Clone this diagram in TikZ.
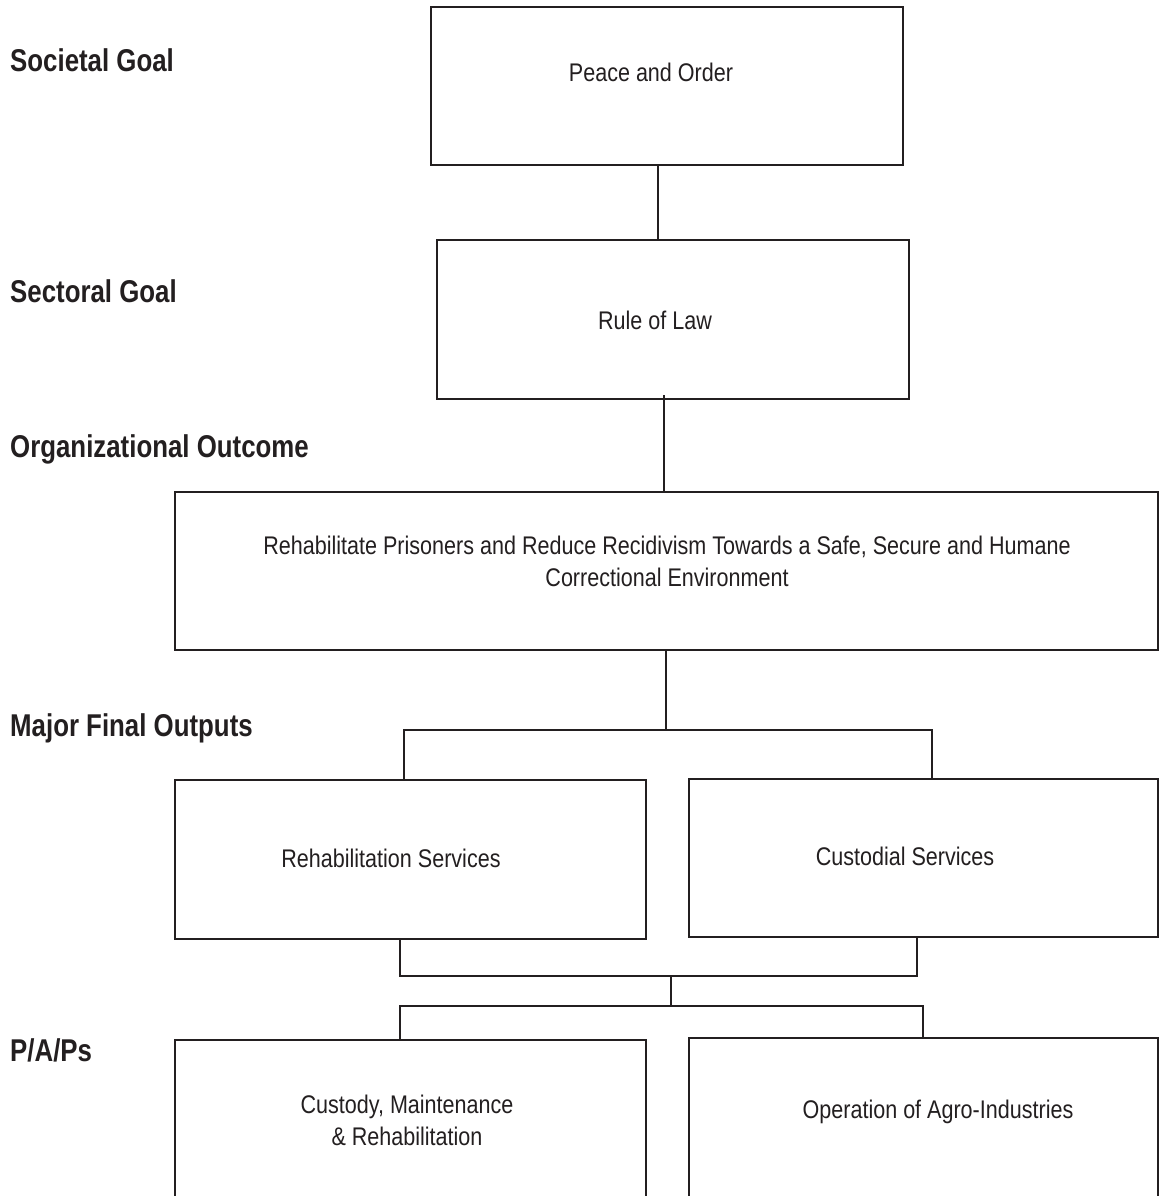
\documentclass[tikz,border=0pt]{standalone}
\usepackage{fontspec}
\setmainfont[FakeStretch=0.82]{Liberation Sans}
\newfontfamily\bodyfont[FakeStretch=0.845]{Liberation Sans}
\definecolor{ink}{HTML}{231F20}
\begin{document}
\begin{tikzpicture}[x=1pt,y=-1pt,
  box/.style={draw=ink, line width=2.6pt, rectangle, inner sep=0pt, outer sep=0pt},
  txt/.style={text=ink, font=\bodyfont\fontsize{25.5}{32}\selectfont, inner sep=0pt, anchor=base},
  txtc/.style={text=ink, font=\bodyfont\fontsize{25.5}{32}\selectfont, inner sep=0pt, anchor=center, align=center},
  lvl/.style={text=ink, font=\fontsize{31.5}{38}\selectfont\bfseries, inner sep=0pt, anchor=base west},
  wire/.style={draw=ink, line width=2.6pt}]
\useasboundingbox (0,0) rectangle (1160,1196);
\fill[white] (0,0) rectangle (1160,1196);
\clip (0,0) rectangle (1160,1196);

% level labels
\node[lvl] (l1) at (10,71.5) {Societal Goal};
\node[lvl] (l2) at (10,302) {Sectoral Goal};
\node[lvl] (l3) at (10,457) {Organizational Outcome};
\node[lvl] (l4) at (10,736) {Major Final Outputs};
\node[lvl] (l5) at (10,1061) {P/A/Ps};

% boxes
\node[box, minimum width=472pt, minimum height=158pt] (b1) at (667,86) {};
\node[box, minimum width=472pt, minimum height=159pt] (b2) at (673,319.5) {};
\node[box, minimum width=983pt, minimum height=158pt] (b3) at (666.5,571) {};
\node[box, minimum width=471pt, minimum height=159pt] (b4L) at (410.5,859.5) {};
\node[box, minimum width=469pt, minimum height=158pt] (b4R) at (923.5,858) {};
\node[box, minimum width=471pt, minimum height=190pt] (b5L) at (410.5,1135) {};
\node[box, minimum width=469pt, minimum height=190pt] (b5R) at (923.5,1133) {};

% texts
\node[txt] (t1) at (651,82) {Peace and Order};
\node[txt] (t2) at (655,329) {Rule of Law};
\node[txtc] (t3) at (667,561) {Rehabilitate Prisoners and Reduce Recidivism Towards a Safe, Secure and Humane\\Correctional Environment};
\node[txt] (t4) at (391,867) {Rehabilitation Services};
\node[txt] (t5) at (905,865) {Custodial Services};
\node[txtc] (t6) at (407,1120) {Custody, Maintenance\\\& Rehabilitation};
\node[txt] (t7) at (938,1118) {Operation of Agro-Industries};

% connectors
\coordinate (j1) at (658,200);
\draw[wire] (b1.south -| j1) -- (b2.north -| j1);
\coordinate (j2) at (664,395);
\draw[wire] (j2) -- (b3.north -| j2);
\coordinate (m1) at (666,730);
\draw[wire] (b3.south -| m1) -- (m1);
\coordinate (m1l) at (404,730);
\coordinate (m1r) at (932,730);
\draw[wire] (b4L.north -| m1l) -- (m1l) -- (m1r) -- (b4R.north -| m1r);
\coordinate (m2l) at (400,976);
\coordinate (m2r) at (917,976);
\coordinate (m2) at (671,976);
\draw[wire] (b4L.south -| m2l) -- (m2l) -- (m2r) -- (b4R.south -| m2r);
\coordinate (m3) at (671,1006);
\draw[wire] (m2) -- (m3);
\coordinate (m3l) at (400,1006);
\coordinate (m3r) at (923,1006);
\draw[wire] (b5L.north -| m3l) -- (m3l) -- (m3r) -- (b5R.north -| m3r);
\end{tikzpicture}
\end{document}
